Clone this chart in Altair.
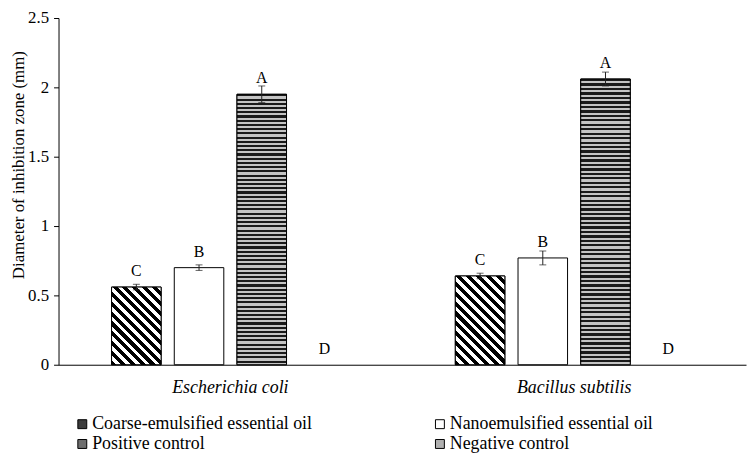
import math
import altair as alt
import pandas as pd

bacteria = ["Escherichia coli", "Bacillus subtilis"]
treatments = [
    "Coarse-emulsified essential oil",
    "Nanoemulsified essential oil",
    "Positive control",
    "Negative control",
]
ecoli_means = [0.56, 0.70, 1.95, 0.0]
ecoli_errors = [0.02, 0.02, 0.06, 0.0]
ecoli_letters = ["C", "B", "A", "D"]
bsub_means = [0.64, 0.77, 2.06, 0.0]
bsub_errors = [0.02, 0.05, 0.05, 0.0]
bsub_letters = ["C", "B", "A", "D"]
y_ticks = [0, 0.5, 1, 1.5, 2, 2.5]

rows = []
for b, means, errs, lets in zip(
    bacteria,
    [ecoli_means, bsub_means],
    [ecoli_errors, bsub_errors],
    [ecoli_letters, bsub_letters],
):
    for t, m, e, l in zip(treatments, means, errs, lets):
        rows.append({"bacteria": b, "treatment": t, "mean": m,
                     "lo": m - e, "hi": m + e, "err": e, "letter": l})
df = pd.DataFrame(rows)

FONT = "Liberation Serif"
PLOT_W, PLOT_H, Y_MAX = 694, 350, 2.5
BAR_W = 50.0  # approx rendered bar width (style helper for the patterns)


def stripe_stops(n, frac, dark, light):
    stops = []
    for i in range(n):
        a = i / n
        b = (i + frac) / n
        c = (i + 1) / n
        stops += [
            {"offset": a, "color": dark},
            {"offset": b, "color": dark},
            {"offset": b, "color": light},
            {"offset": c, "color": light},
        ]
    return stops


# horizontal stripes: 64 stripes so each maps evenly onto the renderer's
# 256-entry gradient table (avoids moire bands)
HORIZ_FILL = {"gradient": "linear", "x1": 0, "y1": 0, "x2": 0, "y2": 1,
              "stops": stripe_stops(64, 0.5, "#1a1a1a", "#c4c4c4")}


def diag_fill(value):
    h = value * PLOT_H / Y_MAX
    w = BAR_W
    k = (w + h) / (w * w + h * h)
    length = (w + h) / math.sqrt(2)
    n = max(1, int(round(length / 7.0)))
    return {"gradient": "linear", "x1": 0, "y1": 1, "x2": k * w, "y2": 1 - k * h,
            "stops": stripe_stops(n, 0.52, "#000000", "#ffffff")}


x_enc = alt.X(
    "bacteria:N",
    sort=bacteria,
    scale=alt.Scale(paddingInner=0, paddingOuter=0),
    axis=alt.Axis(title=None, labelAngle=0, ticks=False, tickSize=0,
                  labelPadding=14, labelFontStyle="italic", labelFontSize=18),
)
xoff_enc = alt.XOffset(
    "treatment:N",
    sort=treatments,
    scale=alt.Scale(paddingInner=0.21, paddingOuter=0.846),
)
y_enc = alt.Y(
    "mean:Q",
    scale=alt.Scale(domain=[0, Y_MAX], nice=False, zero=True),
    axis=alt.Axis(values=y_ticks, format="~g", grid=False,
                  title="Diameter of inhibition zone (mm)",
                  titleFontSize=17, titleFontWeight="normal",
                  titleAngle=270, titleBaseline="bottom", titleAlign="center",
                  titleX=-31, titleY=148,
                  labelFontSize=17, tickSize=5, labelPadding=5),
)

base = alt.Chart(df).encode(x=x_enc, xOffset=xoff_enc, y=y_enc)

bars = base.transform_filter("datum.mean > 0").mark_bar(
    stroke="black", strokeWidth=1
).encode(
    color=alt.Color(
        "treatment:N",
        sort=treatments,
        scale=alt.Scale(domain=treatments,
                        range=["#3c3c3c", "#ffffff", "#6e6e6e", "#b0b0b0"]),
        legend=alt.Legend(
            title=None, orient="none", legendX=15, legendY=401,
            columns=2, direction="horizontal", columnPadding=120, rowPadding=2,
            symbolType="square", symbolSize=81,
            symbolStrokeColor="black", symbolStrokeWidth=1, symbolOpacity=1,
            labelFont=FONT, labelFontSize=18, labelColor="black",
            labelLimit=400, labelOffset=1,
        ),
    )
)

pattern_layers = []
for b, means in zip(bacteria, [ecoli_means, bsub_means]):
    pattern_layers.append(
        base.transform_filter(
            (alt.datum.bacteria == b) & (alt.datum.treatment == treatments[0])
        ).mark_bar(fill=diag_fill(means[0]), stroke="black", strokeWidth=1)
    )
pattern_layers.append(
    base.transform_filter(alt.datum.treatment == treatments[2])
    .mark_bar(fill=HORIZ_FILL, stroke="black", strokeWidth=1)
)

errs = base.transform_filter("datum.err > 0")
err_rule = errs.mark_rule(color="#222222", strokeWidth=1).encode(
    y="lo:Q", y2="hi:Q")
err_lo = errs.mark_tick(orient="horizontal", size=7, thickness=1,
                        color="#222222").encode(y="lo:Q")
err_hi = errs.mark_tick(orient="horizontal", size=7, thickness=1,
                        color="#222222").encode(y="hi:Q")

letters = base.mark_text(dy=-11, baseline="alphabetic", font=FONT,
                         fontSize=16, color="black").encode(text="letter:N")

chart = (
    alt.layer(bars, *pattern_layers, err_rule, err_lo, err_hi, letters)
    .properties(
        width=PLOT_W, height=PLOT_H,
        autosize=alt.AutoSizeParams(type="none"),
        padding={"left": 51, "top": 8, "right": 2, "bottom": 87},
        background="white",
    )
    .configure_view(stroke=None)
    .configure_axis(
        labelFont=FONT, titleFont=FONT, labelColor="black", titleColor="black",
        domainColor="black", tickColor="black", domainWidth=1,
    )
)

chart.save("out.html", embed_options={"renderer": "svg", "actions": False})
